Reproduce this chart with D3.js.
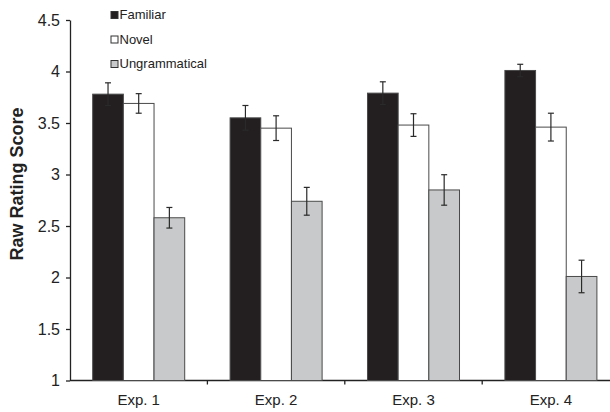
<!DOCTYPE html>
<html>
<head>
<meta charset="utf-8">
<script src="https://cdn.jsdelivr.net/npm/d3@7"></script>
<style>
  html, body { margin: 0; padding: 0; background: #fff; }
  svg { display: block; font-family: "Liberation Sans", Arial, sans-serif; }
</style>
</head>
<body>
<svg id="chart" width="610" height="412"></svg>
<script>
// Mean raw rating scores per experiment and sentence type, with error bars
const experiments = ["Exp. 1", "Exp. 2", "Exp. 3", "Exp. 4"];
const conditions = ["Familiar", "Novel", "Ungrammatical"];
const familiar      = [3.78, 3.55, 3.79, 4.01];
const novel         = [3.69, 3.45, 3.48, 3.46];
const ungrammatical = [2.58, 2.74, 2.85, 2.01];
const familiarErr      = [0.11, 0.12, 0.11, 0.06];
const novelErr         = [0.095, 0.12, 0.11, 0.135];
const ungrammaticalErr = [0.10, 0.135, 0.148, 0.158];
const yTicks = [1, 1.5, 2, 2.5, 3, 3.5, 4, 4.5];

const means = [familiar, novel, ungrammatical];
const errs = [familiarErr, novelErr, ungrammaticalErr];
const fills = ["#231f20", "#ffffff", "#c8c9ca"];

const rows = [];
experiments.forEach((exp, i) => {
  conditions.forEach((cond, j) => {
    rows.push({ exp, cond, value: means[j][i], err: errs[j][i], fill: fills[j] });
  });
});

const svg = d3.select("#chart");
const plotLeft = 70, plotTop = 20, plotBottom = 380.5;
const step = 137.4;

const x = d3.scaleBand().domain(experiments)
  .range([plotLeft, plotLeft + step * experiments.length]).padding(0);
const x1 = d3.scaleBand().domain(conditions)
  .range([0, x.bandwidth()]).paddingInner(0).paddingOuter(0.74);
const y = d3.scaleLinear().domain([1, 4.5]).range([plotBottom, plotTop]);

// y axis
const yAxis = svg.append("g")
  .attr("transform", `translate(${plotLeft},0)`)
  .call(d3.axisLeft(y).tickValues(yTicks).tickFormat(d3.format("~g"))
    .tickSize(4).tickSizeOuter(0).tickPadding(6));
yAxis.selectAll("text").attr("font-size", 16).attr("fill", "#222");
yAxis.selectAll(".domain, .tick line").attr("stroke", "#222").attr("stroke-width", 1.3);

// x axis: ticks at the category boundaries
const boundaries = experiments.map(e => x(e) + x.bandwidth()).slice(0, -1);
const xAxis = svg.append("g").attr("transform", `translate(0,${plotBottom})`)
  .attr("stroke", "#222").attr("stroke-width", 1.3);
xAxis.append("line")
  .attr("x1", plotLeft).attr("x2", x.range()[1])
  .attr("y1", 0).attr("y2", 0);
xAxis.selectAll("line.tick").data(boundaries).join("line")
  .attr("class", "tick")
  .attr("x1", d => d).attr("x2", d => d)
  .attr("y1", 0).attr("y2", 4);
xAxis.selectAll("text").data(experiments).join("text")
  .attr("x", d => x(d) + x.bandwidth() / 2)
  .attr("y", 24.5)
  .attr("text-anchor", "middle")
  .attr("font-size", 15)
  .attr("fill", "#222")
  .attr("stroke", "none")
  .text(d => d);

// bars
const g = svg.append("g");
g.selectAll("rect.bar").data(rows).join("rect")
  .attr("class", "bar")
  .attr("x", d => x(d.exp) + x1(d.cond))
  .attr("y", d => y(d.value))
  .attr("width", x1.bandwidth())
  .attr("height", d => y(1) - y(d.value))
  .attr("fill", d => d.fill)
  .attr("stroke", "#4a4a4a")
  .attr("stroke-width", 1);

// error bars
const cx = d => x(d.exp) + x1(d.cond) + x1.bandwidth() / 2;
const eb = g.selectAll("g.err").data(rows).join("g").attr("class", "err")
  .attr("stroke", "#2a2a2a").attr("stroke-width", 1.2);
eb.append("line")
  .attr("x1", cx).attr("x2", cx)
  .attr("y1", d => y(d.value + d.err)).attr("y2", d => y(d.value - d.err));
eb.append("line")
  .attr("x1", d => cx(d) - 3).attr("x2", d => cx(d) + 3)
  .attr("y1", d => y(d.value + d.err)).attr("y2", d => y(d.value + d.err));
eb.append("line")
  .attr("x1", d => cx(d) - 3).attr("x2", d => cx(d) + 3)
  .attr("y1", d => y(d.value - d.err)).attr("y2", d => y(d.value - d.err));

// axis title
svg.append("text")
  .attr("transform", "translate(23,184) rotate(-90)")
  .attr("text-anchor", "middle")
  .attr("font-size", 18)
  .attr("font-weight", "bold")
  .attr("fill", "#222")
  .text("Raw Rating Score");

// legend
const legend = svg.append("g");
const lg = legend.selectAll("g").data(conditions).join("g")
  .attr("transform", (d, i) => `translate(111,${11.5 + i * 24.5})`);
lg.append("rect")
  .attr("width", 7).attr("height", 7)
  .attr("fill", (d, i) => fills[i])
  .attr("stroke", "#333").attr("stroke-width", 1);
lg.append("text")
  .attr("x", 8.5).attr("y", 7.5)
  .attr("font-size", 13)
  .attr("fill", "#222")
  .text(d => d);
</script>
</body>
</html>
